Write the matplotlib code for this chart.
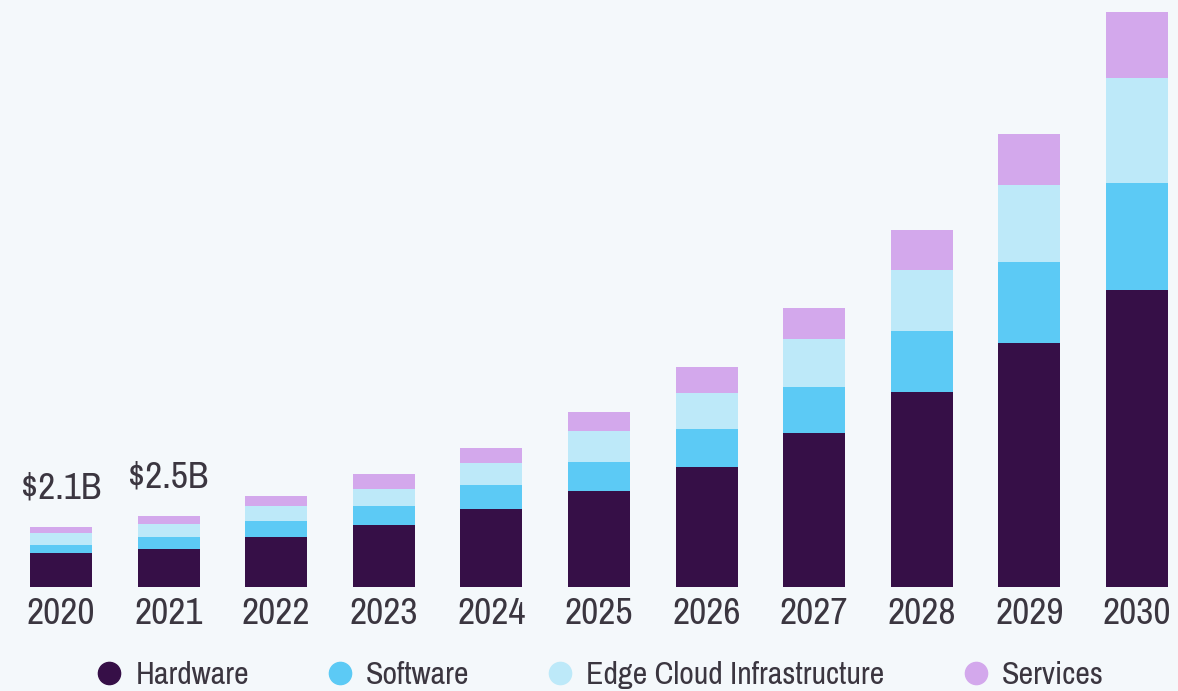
import matplotlib.pyplot as plt
from matplotlib.lines import Line2D
import numpy as np

years = ["2020", "2021", "2022", "2023", "2024", "2025",
         "2026", "2027", "2028", "2029", "2030"]

# market size by segment, USD billion
hardware = [1.20, 1.33, 1.75, 2.18, 2.72, 3.36, 4.20, 5.38, 6.81, 8.53, 10.38]
software = [0.28, 0.41, 0.55, 0.64, 0.83, 1.01, 1.32, 1.61, 2.14, 2.83, 3.76]
edge_cloud = [0.42, 0.47, 0.52, 0.62, 0.80, 1.07, 1.27, 1.69, 2.13, 2.70, 3.66]
services = [0.20, 0.29, 0.36, 0.52, 0.52, 0.67, 0.89, 1.06, 1.41, 1.77, 2.29]

segments = ["Hardware", "Software", "Edge Cloud Infrastructure", "Services"]
colors = ["#360F47", "#5CCAF5", "#BDE9F9", "#D3A8EC"]

# totals called out above the first two bars
callouts = {0: "$2.1B", 1: "$2.5B"}

BG = "#F4F8FB"
TEXT = "#3B3640"
plt.rcParams["font.family"] = ["Archivo Narrow", "Liberation Sans", "DejaVu Sans"]

fig = plt.figure(figsize=(11.78, 6.91), dpi=100, facecolor=BG)
ax = fig.add_axes([0, 104 / 691, 1, 587 / 691], facecolor=BG)

x = np.arange(len(years))
width = 0.576
bottom = np.zeros(len(years))
for values, color in zip([hardware, software, edge_cloud, services], colors):
    ax.bar(x, values, width, bottom=bottom, color=color, linewidth=0)
    bottom += np.array(values)

for i, label in callouts.items():
    ax.annotate(label, (x[i], bottom[i]), xytext=(0, 16), textcoords="offset points",
                ha="center", va="bottom", fontsize=27, color=TEXT)

ax.set_xlim(-0.567, 10.381)
ax.set_ylim(0, 587 / 28.6)
ax.set_xticks(x)
ax.set_xticklabels(years, fontsize=27, color=TEXT)
ax.tick_params(axis="x", length=0, pad=7)
ax.set_yticks([])
for spine in ax.spines.values():
    spine.set_visible(False)

handles = [Line2D([], [], marker="o", linestyle="", markersize=16,
                  markerfacecolor=c, markeredgecolor=c) for c in colors]
fig.legend(handles, segments, loc="center", bbox_to_anchor=(0.508, 16 / 691),
           ncol=4, frameon=False, fontsize=23, labelcolor=TEXT,
           handletextpad=0.31, columnspacing=2.35, handlelength=1.0)

fig.savefig("out.png", dpi=100, facecolor=BG)
